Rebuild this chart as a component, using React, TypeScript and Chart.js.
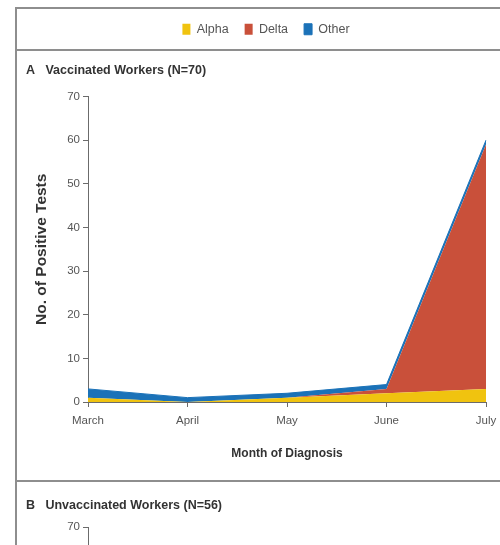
import React, { useEffect, useRef } from "react";
import { Chart, registerables } from "chart.js";
Chart.register(...registerables);

const months = ["March", "April", "May", "June", "July"];
const alphaCounts = [1, 0, 1, 2, 3];
const deltaCounts = [0, 0, 0, 1, 56];
const otherCounts = [2, 1, 1, 1, 1];
const yTicks = [0, 10, 20, 30, 40, 50, 60, 70];
const seriesNames = ["Alpha", "Delta", "Other"];
const seriesColors = ["#F0C30F", "#C9503A", "#1B72B8"];
const titleA = "A   Vaccinated Workers (N=70)";
const titleB = "B   Unvaccinated Workers (N=56)";
const xTitle = "Month of Diagnosis";
const yTitle = "No. of Positive Tests";

const FONT = "'Liberation Sans', Arial, sans-serif";
const AXIS = "#6b6b6b";
const TICK = "#555555";
const TEXT = "#333333";
const FRAME = "#8e8e8e";

function baseScales() {
  return {
    x: {
      type: "category",
      offset: false,
      grid: { display: true, drawOnChartArea: false, drawTicks: true, tickLength: 5, color: AXIS, lineWidth: 1 },
      border: { display: true, color: AXIS, width: 1 },
      ticks: { color: TICK, font: { family: FONT, size: 11.5 }, padding: 7, maxRotation: 0, autoSkip: false },
      title: {
        display: true,
        text: xTitle,
        color: TEXT,
        font: { family: FONT, size: 12, weight: "bold" },
        padding: { top: 0, bottom: 19 },
      },
      afterFit: (s: any) => {
        s.height = 78;
      },
    },
    y: {
      type: "linear",
      stacked: true,
      min: 0,
      max: 70,
      afterBuildTicks: (s: any) => {
        s.ticks = yTicks.map((v) => ({ value: v }));
      },
      grid: { display: true, drawOnChartArea: false, drawTicks: true, tickLength: 5, color: AXIS, lineWidth: 1 },
      border: { display: true, color: AXIS, width: 1 },
      ticks: { color: TICK, font: { family: FONT, size: 11.5 }, padding: 3 },
      title: {
        display: true,
        text: yTitle,
        color: TEXT,
        font: { family: FONT, size: 15.5, weight: "bold" },
        padding: { top: 6, bottom: 0 },
      },
      afterFit: (s: any) => {
        s.width = 62;
      },
    },
    yR: {
      type: "linear",
      position: "right",
      display: true,
      grid: { display: false },
      border: { display: false },
      ticks: { display: false },
      afterFit: (s: any) => {
        s.width = 20;
      },
    },
  };
}

function ChartA() {
  const ref = useRef<HTMLCanvasElement>(null);
  useEffect(() => {
    const series = [alphaCounts, deltaCounts, otherCounts];
    const chart = new Chart(ref.current!, {
      type: "line",
      data: {
        labels: months,
        datasets: series.map((d, i) => ({
          label: seriesNames[i],
          data: d,
          backgroundColor: seriesColors[i],
          borderColor: seriesColors[i],
          borderWidth: i === 2 ? 1 : 0,
          pointRadius: 0,
          tension: 0,
          fill: i === 0 ? "origin" : "-1",
        })),
      },
      options: {
        animation: false,
        responsive: false,
        layout: { padding: { left: 9, right: 0, top: 0, bottom: 0 } },
        plugins: {
          legend: {
            display: true,
            position: "top",
            weight: 3000,
            labels: {
              boxWidth: 8,
              boxHeight: 11,
              padding: 16,
              color: TICK,
              font: { family: FONT, size: 12.5 },
            },
          },
          title: {
            display: true,
            text: titleA,
            align: "start",
            color: TEXT,
            font: { family: FONT, size: 12.5, weight: "bold" },
            padding: { top: 17.5, bottom: 18.5 },
          },
          tooltip: { enabled: false },
        },
        scales: baseScales(),
      } as any,
    });
    return () => chart.destroy();
  }, []);
  return (
    <canvas
      ref={ref}
      width={489}
      height={473}
      style={{ position: "absolute", left: 17, top: 7, width: 489, height: 473 }}
    />
  );
}

function ChartB() {
  const ref = useRef<HTMLCanvasElement>(null);
  useEffect(() => {
    const chart = new Chart(ref.current!, {
      type: "line",
      data: { labels: months, datasets: [] },
      options: {
        animation: false,
        responsive: false,
        layout: { padding: { left: 9, right: 0, top: 0, bottom: 0 } },
        plugins: {
          legend: { display: false },
          title: {
            display: true,
            text: titleB,
            align: "start",
            color: TEXT,
            font: { family: FONT, size: 12.5, weight: "bold" },
            padding: { top: 15, bottom: 14 },
          },
          tooltip: { enabled: false },
        },
        scales: baseScales(),
      } as any,
    });
    return () => chart.destroy();
  }, []);
  return (
    <canvas
      ref={ref}
      width={489}
      height={471}
      style={{ position: "absolute", left: 17, top: 483, width: 489, height: 471 }}
    />
  );
}

export default function App() {
  return (
    <div
      style={{
        position: "fixed",
        left: 0,
        top: 0,
        width: 500,
        height: 545,
        overflow: "hidden",
        background: "#ffffff",
      }}
    >
      <ChartA />
      <ChartB />
      <div style={{ position: "absolute", left: 15, top: 7, width: 2, height: 545, background: FRAME }} />
      <div style={{ position: "absolute", left: 15, top: 7, width: 490, height: 2, background: FRAME }} />
      <div style={{ position: "absolute", left: 15, top: 49, width: 490, height: 2, background: FRAME }} />
      <div style={{ position: "absolute", left: 15, top: 480, width: 490, height: 2, background: FRAME }} />
    </div>
  );
}
